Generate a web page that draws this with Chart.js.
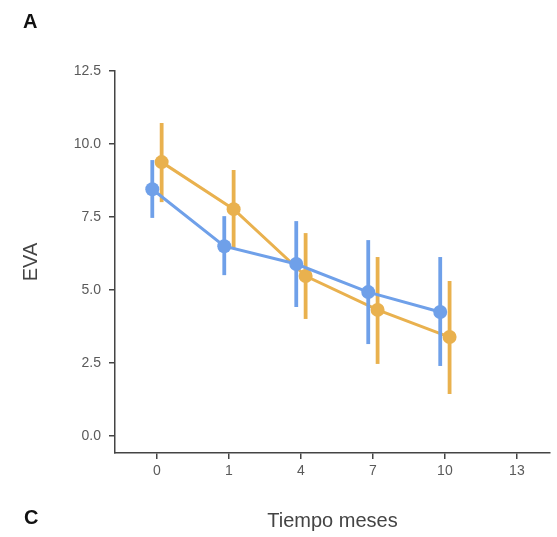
<!DOCTYPE html>
<html>
<head>
<meta charset="utf-8">
<script src="https://cdn.jsdelivr.net/npm/chart.js@4/dist/chart.umd.min.js"></script>
<style>
  html, body { margin: 0; padding: 0; background: #ffffff; }
  #chart { display: block; }
</style>
</head>
<body>
<canvas id="chart" width="557" height="537"></canvas>
<script>
// ===== Data =====
const timeLabels = ["0", "1", "4", "7", "10", "13"];
const yTicks = [0, 2.5, 5, 7.5, 10, 12.5];

const blueMean = [8.45, 6.50, 5.89, 4.93, 4.25];
const blueLow  = [7.47, 5.51, 4.42, 3.15, 2.40];
const blueHigh = [9.45, 7.53, 7.36, 6.71, 6.13];

const orangeMean = [9.38, 7.77, 5.48, 4.32, 3.39];
const orangeLow  = [8.01, 6.44, 4.01, 2.47, 1.44];
const orangeHigh = [10.72, 9.11, 6.95, 6.13, 5.31];

const blueColor = "#6fa0e9";
const orangeColor = "#e9b14e";
const dodge = 0.065;

function toPoints(values, shift) {
    return values.map((v, i) => ({ x: i + shift, y: v }));
}

// ===== Error bars, drawn under each series =====
const errorBars = {
    id: "errorBars",
    beforeDatasetDraw(chart, args) {
        const ds = chart.data.datasets[args.index];
        const ctx = chart.ctx;
        const xs = chart.scales.x;
        const ys = chart.scales.y;
        ctx.save();
        ctx.strokeStyle = ds.borderColor;
        ctx.lineWidth = 3.8;
        ds.data.forEach((p, i) => {
            const px = xs.getPixelForValue(p.x);
            ctx.beginPath();
            ctx.moveTo(px, ys.getPixelForValue(ds.low[i]));
            ctx.lineTo(px, ys.getPixelForValue(ds.high[i]));
            ctx.stroke();
        });
        ctx.restore();
    }
};

// ===== Panel letters =====
const panelLetters = {
    id: "panelLetters",
    afterDraw(chart) {
        const ctx = chart.ctx;
        ctx.save();
        ctx.fillStyle = "#111111";
        ctx.font = "bold 20px 'Liberation Sans', Arial, sans-serif";
        ctx.textBaseline = "middle";
        ctx.fillText("A", 23, 22);
        ctx.fillText("C", 24, 518);
        ctx.restore();
    }
};

const tickFont = { family: "'Liberation Sans', Arial, sans-serif", size: 14 };
const titleFont = { family: "'Liberation Sans', Arial, sans-serif", size: 20 };

new Chart(document.getElementById("chart"), {
    type: "line",
    data: {
        datasets: [
            {
                data: toPoints(blueMean, -dodge),
                low: blueLow,
                high: blueHigh,
                borderColor: blueColor,
                backgroundColor: blueColor,
                borderWidth: 3,
                pointRadius: 7,
                pointBorderWidth: 0
            },
            {
                data: toPoints(orangeMean, dodge),
                low: orangeLow,
                high: orangeHigh,
                borderColor: orangeColor,
                backgroundColor: orangeColor,
                borderWidth: 3,
                pointRadius: 7,
                pointBorderWidth: 0
            }
        ]
    },
    options: {
        responsive: false,
        animation: false,
        devicePixelRatio: 1,
        layout: { padding: { top: 71, left: 0, right: 0, bottom: 0 } },
        plugins: {
            legend: { display: false },
            tooltip: { enabled: false }
        },
        scales: {
            x: {
                type: "linear",
                min: -0.583,
                max: 5.46,
                afterBuildTicks(scale) {
                    scale.ticks = timeLabels.map((t, i) => ({ value: i }));
                },
                afterFit(scale) {
                    scale.height = 84;
                },
                ticks: {
                    color: "#5a5a5a",
                    font: tickFont,
                    padding: 4,
                    maxRotation: 0,
                    callback: (v) => timeLabels[v]
                },
                grid: {
                    drawOnChartArea: false,
                    drawTicks: true,
                    tickLength: 6,
                    color: "#444444",
                    lineWidth: 1.5
                },
                border: { display: true, color: "#444444", width: 1.5 },
                title: {
                    display: true,
                    text: "Tiempo meses",
                    color: "#444444",
                    font: titleFont,
                    padding: { top: 0, bottom: 4 }
                }
            },
            y: {
                min: -0.58,
                max: 12.5,
                afterBuildTicks(scale) {
                    scale.ticks = yTicks.map((v) => ({ value: v }));
                },
                afterFit(scale) {
                    scale.width = 115;
                },
                ticks: {
                    color: "#5a5a5a",
                    font: tickFont,
                    padding: 8,
                    callback: (v) => v.toFixed(1)
                },
                grid: {
                    drawOnChartArea: false,
                    drawTicks: true,
                    tickLength: 6,
                    color: "#444444",
                    lineWidth: 1.5
                },
                border: { display: true, color: "#444444", width: 1.5 },
                title: {
                    display: true,
                    text: "EVA",
                    color: "#444444",
                    font: titleFont,
                    padding: { top: 19, bottom: 0 }
                }
            }
        }
    },
    plugins: [errorBars, panelLetters]
});
</script>
</body>
</html>
